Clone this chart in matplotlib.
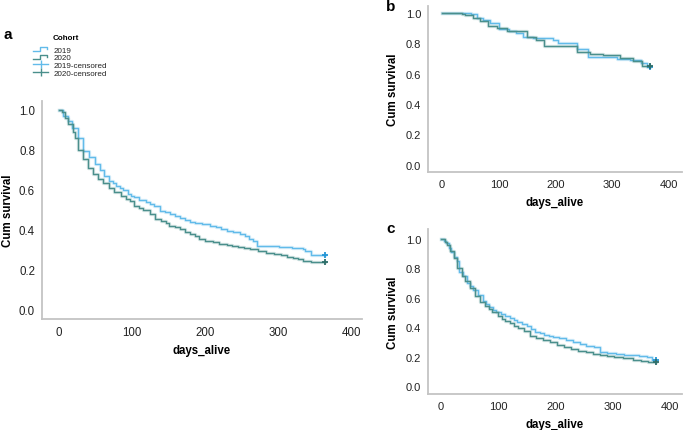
import numpy as np
import matplotlib
matplotlib.use("Agg")
import matplotlib.pyplot as plt
from matplotlib.lines import Line2D
from matplotlib.legend_handler import HandlerBase

plt.rcParams['font.family'] = ['Liberation Sans', 'DejaVu Sans']

# Kaplan-Meier steps (day of event, survival after it);
# each curve runs flat to its *_end day where it is censored
# panel a
a_2019_days = [0, 5, 12, 18, 26, 33, 41, 49, 56, 62, 69, 74, 78, 83, 87, 94, 98, 103, 110,
               119, 124, 130, 138, 145, 152, 158, 165, 172, 179, 186, 195, 206, 214, 222,
               229, 238, 247, 254, 260, 265, 270, 285, 300, 318, 333, 336, 345]
a_2019_surv = [1.0, 0.97, 0.945, 0.91, 0.857, 0.794, 0.761, 0.728, 0.699, 0.669, 0.644,
               0.63, 0.619, 0.608, 0.599, 0.577, 0.568, 0.56, 0.548, 0.535, 0.527, 0.515,
               0.493, 0.488, 0.478, 0.468, 0.458, 0.446, 0.435, 0.43, 0.425, 0.418, 0.41,
               0.402, 0.393, 0.385, 0.377, 0.365, 0.351, 0.34, 0.318, 0.314, 0.31, 0.305,
               0.30, 0.29, 0.271]
a_2019_end = 364
a_2020_days = [0, 4, 8, 13, 19, 22, 26, 33, 40, 47, 54, 60, 68, 76, 85, 92, 97, 103, 109,
               115, 124, 131, 140, 146, 151, 158, 165, 172, 179, 186, 192, 200, 210, 219,
               229, 237, 245, 253, 261, 272, 283, 294, 304, 312, 320, 327, 333, 345]
a_2020_surv = [1.0, 0.99, 0.96, 0.93, 0.89, 0.86, 0.80, 0.755, 0.71, 0.68, 0.655, 0.63,
               0.605, 0.585, 0.565, 0.553, 0.54, 0.515, 0.505, 0.495, 0.477, 0.452, 0.44,
               0.43, 0.418, 0.41, 0.40, 0.388, 0.376, 0.365, 0.351, 0.343, 0.335, 0.328,
               0.321, 0.315, 0.31, 0.305, 0.30, 0.29, 0.281, 0.276, 0.271, 0.263, 0.255,
               0.249, 0.243, 0.237]
a_2020_end = 364

# panel b
b_2019_days = [0, 50, 61, 72, 84, 100, 118, 130, 143, 160, 196, 205, 237, 258, 308, 332,
               350, 361]
b_2019_surv = [1.0, 0.99, 0.97, 0.955, 0.935, 0.895, 0.88, 0.866, 0.84, 0.835, 0.82, 0.80,
               0.763, 0.708, 0.70, 0.69, 0.67, 0.645]
b_2019_end = 366
b_2020_days = [0, 35, 41, 55, 67, 81, 96, 115, 150, 165, 180, 237, 260, 284, 313, 336, 353]
b_2020_surv = [1.0, 0.993, 0.985, 0.967, 0.95, 0.916, 0.90, 0.88, 0.84, 0.82, 0.785,
               0.745, 0.73, 0.72, 0.705, 0.685, 0.653]
b_2020_end = 366

# panel c
c_2019_days = [0, 5, 9, 14, 18, 23, 27, 32, 38, 46, 50, 55, 64, 73, 78, 84, 90, 96, 104,
               112, 120, 127, 133, 141, 150, 157, 164, 172, 180, 188, 196, 206, 218, 231,
               243, 254, 268, 278, 290, 305, 320, 330, 345, 359, 368]
c_2019_surv = [1.0, 0.985, 0.97, 0.94, 0.91, 0.88, 0.853, 0.774, 0.751, 0.70, 0.68, 0.656,
               0.62, 0.582, 0.56, 0.537, 0.52, 0.502, 0.49, 0.475, 0.462, 0.45, 0.439,
               0.425, 0.41, 0.39, 0.371, 0.36, 0.35, 0.342, 0.333, 0.325, 0.315, 0.303,
               0.29, 0.276, 0.268, 0.231, 0.228, 0.222, 0.216, 0.213, 0.205, 0.197, 0.181]
c_2019_end = 375
c_2020_days = [0, 7, 11, 16, 22, 27, 36, 42, 51, 60, 68, 77, 83, 89, 100, 106, 112, 120,
               127, 135, 144, 155, 166, 178, 190, 202, 214, 227, 240, 254, 266, 278, 290,
               302, 318, 336, 350, 362]
c_2020_surv = [1.0, 0.978, 0.96, 0.92, 0.869, 0.80, 0.751, 0.717, 0.665, 0.615, 0.575,
               0.543, 0.525, 0.507, 0.475, 0.46, 0.446, 0.43, 0.412, 0.395, 0.378, 0.344,
               0.33, 0.315, 0.299, 0.28, 0.265, 0.252, 0.24, 0.231, 0.222, 0.213, 0.205,
               0.197, 0.19, 0.181, 0.175, 0.165]
c_2020_end = 375

cohorts = ['2019', '2020']
colors = {'2019': '#62bbea', '2020': '#4a8f8c'}
cens_colors = {'2019': '#2596d6', '2020': '#2e6e6a'}
x_ticks = [0, 100, 200, 300, 400]
y_ticks = [0.0, 0.2, 0.4, 0.6, 0.8, 1.0]

W, H = 685, 431


def frac(left, top, right, bottom):
    return [left / W, 1 - bottom / H, (right - left) / W, (bottom - top) / H]


def draw_km(ax, days, surv, end, cohort):
    c = colors[cohort]
    xs = list(days) + [end]
    ys = list(surv) + [surv[-1]]
    ax.step(xs, ys, where='post', color=c, lw=2.4, alpha=0.22)
    ax.step(xs, ys, where='post', color=c, lw=1.0)
    ax.plot(end, surv[-1], marker='+', ms=5, mew=1.3, color=cens_colors[cohort])


def style(ax, xlim, ylim, xlab_y, ylab_x, fs):
    ax.set_xlim(xlim)
    ax.set_ylim(ylim)
    ax.set_xticks(x_ticks)
    ax.set_yticks(y_ticks)
    ax.set_yticklabels(['%.1f' % v for v in y_ticks])
    for s in ['top', 'right']:
        ax.spines[s].set_visible(False)
    for s in ['left', 'bottom']:
        ax.spines[s].set_color('#c4c4c4')
        ax.spines[s].set_linewidth(1.3)
    ax.tick_params(length=0, labelsize=fs, colors='#222222', pad=5)
    ax.set_xlabel('days_alive', fontsize=8.3, fontweight='bold', va='center')
    ax.set_ylabel('Cum survival', fontsize=8.3, fontweight='bold', va='center')
    ax.xaxis.set_label_coords(0.5, xlab_y)
    ax.yaxis.set_label_coords(ylab_x, 0.5)


class StepHandler(HandlerBase):
    def create_artists(self, legend, orig_handle, xdescent, ydescent, width, height,
                       fontsize, trans):
        x0, y0 = -xdescent, -ydescent
        xs = [x0, x0 + 0.45 * width, x0 + 0.45 * width, x0 + 0.9 * width, x0 + 0.9 * width]
        ys = [y0 + 0.1 * height, y0 + 0.1 * height, y0 + 0.8 * height,
              y0 + 0.8 * height, y0 + 0.5 * height]
        ln = Line2D(xs, ys, color=orig_handle.get_color(), lw=1.0, transform=trans)
        return [ln]


fig = plt.figure(figsize=(6.85, 4.31), dpi=100)

ax_a = fig.add_axes(frac(42, 102, 362, 320))
draw_km(ax_a, a_2019_days, a_2019_surv, a_2019_end, '2019')
draw_km(ax_a, a_2020_days, a_2020_surv, a_2020_end, '2020')
style(ax_a, (-23, 414), (-0.05, 1.044), -0.142, -0.105, 8.3)

ax_b = fig.add_axes(frac(428, 7, 682, 173))
draw_km(ax_b, b_2019_days, b_2019_surv, b_2019_end, '2019')
draw_km(ax_b, b_2020_days, b_2020_surv, b_2020_end, '2020')
style(ax_b, (-25, 423), (-0.048, 1.046), -0.181, -0.138, 8)

ax_c = fig.add_axes(frac(428, 230, 682, 395))
draw_km(ax_c, c_2019_days, c_2019_surv, c_2019_end, '2019')
draw_km(ax_c, c_2020_days, c_2020_surv, c_2020_end, '2020')
style(ax_c, (-23, 421), (-0.052, 1.068), -0.182, -0.138, 8)

fig.text(3 / W, 1 - 35 / H, 'a', fontsize=11, fontweight='bold', ha='left', va='center')
fig.text(386 / W, 1 - 7 / H, 'b', fontsize=11, fontweight='bold', ha='left', va='center')
fig.text(386 / W, 1 - 229 / H, 'c', fontsize=11, fontweight='bold', ha='left', va='center')

fig.text(66 / W, 1 - 38 / H, 'Cohort', fontsize=5.8, fontweight='bold', ha='center',
         va='center')
step_handles = [Line2D([], [], color=colors[c]) for c in cohorts]
cens_handles = [Line2D([], [], color=colors[c], lw=1.0, marker='|', ms=6, mew=1.0)
                for c in cohorts]
labels = cohorts + [c + '-censored' for c in cohorts]
leg = fig.legend(step_handles + cens_handles, labels,
                 handler_map={h: StepHandler() for h in step_handles},
                 loc='upper left', bbox_to_anchor=(33 / W, 1 - 47 / H),
                 frameon=False, fontsize=5.8, labelcolor='#222222',
                 handlelength=1.9, handletextpad=0.6, labelspacing=0.02,
                 borderpad=0.0, borderaxespad=0.0)

fig.savefig('out.png', dpi=100)
